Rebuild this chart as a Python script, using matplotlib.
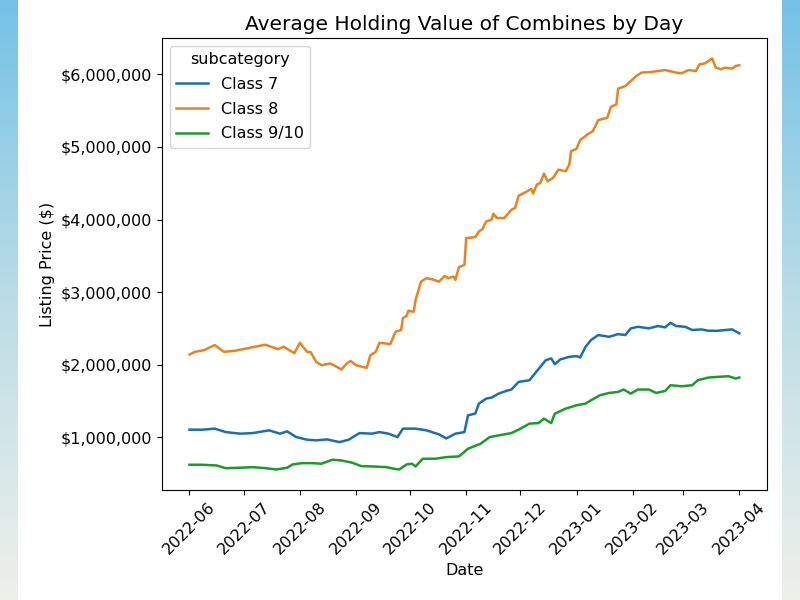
import numpy as np
import pandas as pd
import matplotlib
matplotlib.use("Agg")
import matplotlib.pyplot as plt
import matplotlib.dates as mdates
from matplotlib.ticker import FuncFormatter

start = pd.Timestamp("2022-06-01")

# days after 2022-06-01, average listing value in dollars
c7_days = [0, 7, 14, 20, 28, 35, 44, 50, 54, 59, 65, 70, 76, 83, 88, 94, 101, 105, 110, 115,
           118, 125, 131, 138, 142, 147, 152, 154, 158, 160, 164, 167, 171, 175, 178, 182, 188,
           191, 194, 197, 200, 202, 205, 210, 214, 216, 219, 222, 226, 232, 237, 241, 244, 248,
           254, 259, 263, 266, 269, 274, 278, 283, 287, 292, 300, 304]
c7_vals = [1106, 1106, 1120, 1073, 1051, 1059, 1097, 1051, 1083, 1004, 968, 959, 972, 935, 968,
           1059, 1051, 1073, 1051, 1004, 1120, 1120, 1097, 1041, 986, 1051, 1073, 1304, 1327,
           1465, 1534, 1548, 1603, 1639, 1659, 1764, 1787, 1880, 1971, 2063, 2087, 2008, 2073,
           2109, 2119, 2101, 2247, 2340, 2409, 2385, 2422, 2409, 2501, 2523, 2501, 2533, 2515,
           2578, 2533, 2523, 2478, 2487, 2468, 2468, 2487, 2432]

c8_days = [0, 3, 8, 14, 19, 25, 38, 42, 49, 52, 58, 61, 62, 65, 67, 70, 73, 78, 84, 87, 89, 92,
           98, 100, 103, 105, 108, 111, 114, 117, 118, 120, 121, 124, 125, 128, 131, 134, 138,
           141, 143, 146, 147, 149, 152, 153, 158, 160, 162, 164, 167, 168, 170, 174, 178, 180,
           182, 185, 189, 190, 192, 194, 196, 198, 201, 204, 208, 210, 211, 214, 216, 220, 223,
           226, 231, 233, 236, 237, 241, 247, 250, 255, 263, 269, 272, 276, 280, 282, 285, 289,
           291, 294, 296, 300, 302, 304]
c8_vals = [2140, 2178, 2201, 2271, 2178, 2192, 2257, 2275, 2215, 2247, 2160, 2302, 2271, 2178,
           2174, 2040, 1994, 2018, 1935, 2018, 2054, 1994, 1957, 2132, 2178, 2302, 2294, 2284,
           2454, 2478, 2643, 2671, 2744, 2730, 2892, 3145, 3192, 3178, 3145, 3223, 3192, 3214,
           3168, 3344, 3375, 3744, 3758, 3835, 3868, 3973, 3997, 4080, 4020, 4020, 4135, 4158,
           4328, 4365, 4421, 4356, 4480, 4504, 4632, 4526, 4573, 4687, 4664, 4756, 4940, 4973,
           5092, 5171, 5216, 5368, 5401, 5553, 5585, 5802, 5838, 5976, 6023, 6031, 6058, 6023,
           6013, 6058, 6045, 6137, 6151, 6216, 6092, 6068, 6092, 6078, 6114, 6124]

c910_days = [0, 7, 15, 20, 28, 35, 42, 48, 54, 57, 62, 68, 73, 79, 84, 90, 95, 101, 109, 113,
             116, 120, 123, 125, 129, 136, 142, 149, 154, 161, 166, 171, 178, 183, 188, 193, 196,
             200, 202, 208, 214, 219, 222, 227, 232, 237, 240, 244, 248, 254, 258, 263, 266, 272,
             278, 281, 287, 292, 298, 302, 304]
c910_vals = [623, 623, 613, 576, 582, 590, 576, 558, 582, 627, 645, 645, 637, 692, 682, 651, 604,
             600, 590, 568, 558, 627, 637, 600, 706, 706, 728, 738, 844, 913, 1004, 1028, 1059,
             1120, 1189, 1197, 1258, 1197, 1327, 1396, 1442, 1465, 1511, 1580, 1612, 1626, 1659,
             1603, 1659, 1659, 1612, 1639, 1718, 1704, 1718, 1787, 1824, 1833, 1842, 1811, 1824]

series = [("Class 7", c7_days, c7_vals, "#1a6fb0"),
          ("Class 8", c8_days, c8_vals, "#e8841f"),
          ("Class 9/10", c910_days, c910_vals, "#1a9b2a")]

fig = plt.figure(figsize=(8, 6), dpi=100)

# light blue strips down both sides of the picture
grad = np.linspace(0, 1, 256).reshape(-1, 1)
cmap = matplotlib.colors.LinearSegmentedColormap.from_list("edge", ["#74c2e6", "#bcdde6", "#eef0ea"])
for x0 in (0, 782 / 800):
    bg = fig.add_axes([x0, 0, 18 / 800, 1])
    bg.imshow(grad, aspect="auto", cmap=cmap)
    bg.axis("off")

ax = fig.add_axes([0.2025, 0.1833, 0.756, 0.7533])
for name, days, vals, col in series:
    dates = start + pd.to_timedelta(days, unit="D")
    ax.plot(dates, np.array(vals) * 1000, color=col, lw=1.8, label=name)

ax.xaxis.set_major_locator(mdates.MonthLocator())
ax.xaxis.set_major_formatter(mdates.DateFormatter("%Y-%m"))
ax.yaxis.set_major_formatter(FuncFormatter(lambda v, p: "${:,.0f}".format(v)))
plt.setp(ax.get_xticklabels(), rotation=45)
ax.tick_params(labelsize=11.5)

ax.set_title("Average Holding Value of Combines by Day", fontsize=14.5)
ax.set_xlabel("Date", fontsize=11.5)
ax.set_ylabel("Listing Price ($)", fontsize=11.5)
ax.legend(title="subcategory", loc="upper left", fontsize=11.5, title_fontsize=11.5,
          labelspacing=0.6)

fig.savefig("out.png", dpi=100)
